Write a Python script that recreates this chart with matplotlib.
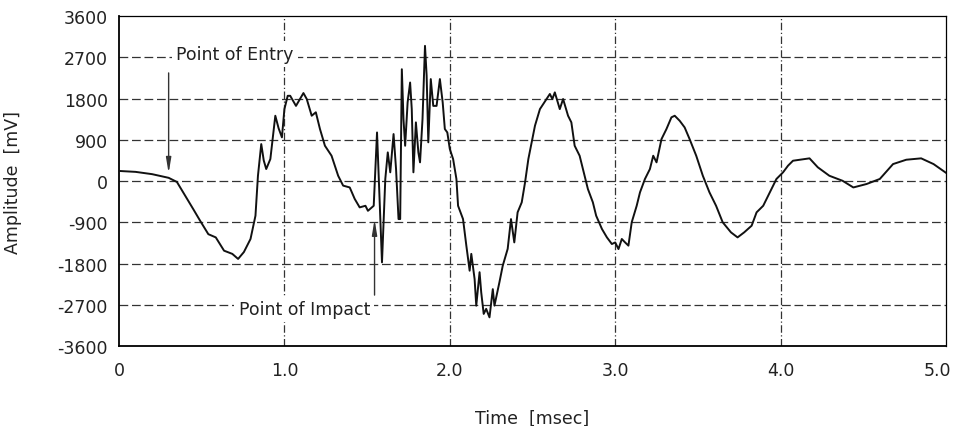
import numpy as np
import matplotlib
matplotlib.use("Agg")
import matplotlib.pyplot as plt
import matplotlib.transforms as mtransforms

# signal (time in msec, amplitude in mV)
time_ms = [0.0, 0.1, 0.2, 0.3, 0.35, 0.40, 0.45, 0.49, 0.54, 0.585, 0.635, 0.685,
           0.72, 0.755, 0.795, 0.825, 0.84, 0.86, 0.875, 0.89, 0.915, 0.945, 0.965,
           0.985, 1.0, 1.02, 1.035, 1.07, 1.115, 1.135, 1.165, 1.19, 1.215, 1.245,
           1.285, 1.325, 1.355, 1.395, 1.425, 1.455, 1.49, 1.505, 1.54, 1.56, 1.59,
           1.61, 1.625, 1.64, 1.66, 1.675, 1.69, 1.70, 1.71, 1.72, 1.73, 1.745,
           1.76, 1.77, 1.78, 1.795, 1.81, 1.82, 1.835, 1.85, 1.86, 1.87, 1.885,
           1.90, 1.92, 1.94, 1.957, 1.97, 1.985, 2.0, 2.02, 2.04, 2.05, 2.08, 2.10,
           2.12, 2.13, 2.15, 2.16, 2.18, 2.19, 2.205, 2.22, 2.24, 2.26, 2.27, 2.30,
           2.32, 2.35, 2.37, 2.39, 2.41, 2.435, 2.455, 2.475, 2.495, 2.515, 2.545,
           2.585, 2.605, 2.62, 2.635, 2.665, 2.685, 2.715, 2.735, 2.755, 2.785,
           2.805, 2.835, 2.865, 2.885, 2.92, 2.95, 2.98, 3.0, 3.02, 3.04, 3.06,
           3.08, 3.10, 3.13, 3.15, 3.18, 3.21, 3.23, 3.25, 3.28, 3.31, 3.34, 3.36,
           3.39, 3.42, 3.45, 3.49, 3.53, 3.57, 3.61, 3.65, 3.70, 3.74, 3.78, 3.825,
           3.855, 3.895, 3.935, 3.975, 4.015, 4.045, 4.075, 4.175, 4.225, 4.295,
           4.375, 4.44, 4.52, 4.60, 4.68, 4.76, 4.85, 4.925, 5.0]
amplitude_mv = [220, 200, 150, 70, -20, -320, -620, -865, -1160, -1230, -1520, -1590,
                -1700, -1550, -1265, -757, 115, 807, 450, 262, 480, 1425, 1150,
                953, 1570, 1860, 1860, 1640, 1920, 1790, 1425, 1500, 1135, 770,
                552, 115, -100, -140, -390, -575, -540, -650, -540, 1060, -1775,
                45, 625, 190, 1025, 262, -830, -830, 2440, 1350, 770, 1717,
                2150, 1570, 190, 1280, 625, 408, 1350, 2950, 2300, 845, 2225,
                1640, 1640, 2225, 1717, 1135, 1060, 700, 480, 45, -540, -830, -1410,
                -1957, -1590, -2140, -2720, -1990, -2430, -2900, -2790, -2975, -2360, -2720, -2210,
                -1850, -1480, -830, -1340, -683, -465, -30, 480, 845, 1207, 1570,
                1790, 1900, 1790, 1935, 1570, 1790, 1425, 1280, 770, 552,
                262, -175, -465, -757, -1047, -1230, -1375, -1340, -1485, -1265, -1340,
                -1410, -900, -540, -247, 45, 262, 552, 408, 915, 1135, 1390, 1425,
                1315, 1170, 915, 552, 115, -247, -540, -900, -1120, -1230, -1120, -975,
                -683, -540, -247, 45, 190, 335, 443, 495, 300, 115,
                5, -140, -65, 45, 370, 465, 495, 370, 180]

x_ticks = [0, 1, 2, 3, 4, 5]
x_labels = ["0", "1.0", "2.0", "3.0", "4.0", "5.0"]
y_ticks = [-3600, -2700, -1800, -900, 0, 900, 1800, 2700, 3600]

plt.rcParams['font.family'] = 'DejaVu Sans'

fig = plt.figure(figsize=(9.56, 4.27), dpi=100)
ax = fig.add_axes([0.1245, 0.1874, 0.8650, 0.7726])

# grid: dashed horizontals, dash-dot verticals
for y in y_ticks[1:-1]:
    ax.axhline(y, color='#333333', lw=0.9, ls=(0, (7, 3)), zorder=1)
for x in x_ticks[1:-1]:
    ax.axvline(x, color='#333333', lw=0.9, ls=(0, (6, 2, 1, 2)), zorder=1)

ax.plot(time_ms, amplitude_mv, color='#111111', lw=1.4, zorder=3)

ax.set_xlim(0, 5)
ax.set_ylim(-3600, 3600)
ax.set_xticks(x_ticks)
ax.set_xticklabels(x_labels)
ax.set_yticks(y_ticks)
ax.set_yticklabels([str(v) for v in y_ticks])
ax.tick_params(length=0, labelsize=12.5, colors='#222222')
ax.tick_params(axis='x', pad=11)
ax.tick_params(axis='y', pad=8)

# last x label sits a little inside the figure edge, like the original
last = ax.get_xticklabels()[-1]
last.set_transform(last.get_transform() +
                   mtransforms.ScaledTranslation(-9 / 100, 0, fig.dpi_scale_trans))

for s in ['left', 'bottom']:
    ax.spines[s].set_linewidth(1.3)
ax.spines['right'].set_linewidth(0.9)
ax.spines['top'].set_linewidth(0.9)
ax.spines['top'].set_linestyle((0, (2, 1)))

ax.set_ylabel("Amplitude  [mV]", fontsize=12.5, color='#222222')
ax.yaxis.set_label_coords(-0.117, 0.5)
ax.set_xlabel("Time  [msec]", fontsize=12.5, color='#222222')
ax.xaxis.set_label_coords(0.5, -0.19)

# annotations
ax.text(0.70, 2770, "Point of Entry", fontsize=12.5, ha='center', va='center',
        color='#222222', zorder=2,
        bbox=dict(facecolor='white', edgecolor='none', pad=3))
ax.annotate("", xy=(0.30, 110), xytext=(0.30, 2420),
            arrowprops=dict(arrowstyle='-|>,head_width=0.15,head_length=0.9',
                            color='#333333', lw=1.0), zorder=4)

ax.text(1.12, -2800, "Point of Impact", fontsize=12.5, ha='center', va='center',
        color='#222222', zorder=2,
        bbox=dict(facecolor='white', edgecolor='none', pad=3))
ax.annotate("", xy=(1.545, -780), xytext=(1.545, -2550),
            arrowprops=dict(arrowstyle='-|>,head_width=0.15,head_length=0.9',
                            color='#333333', lw=1.0), zorder=4)

fig.savefig("out.png", dpi=100)
